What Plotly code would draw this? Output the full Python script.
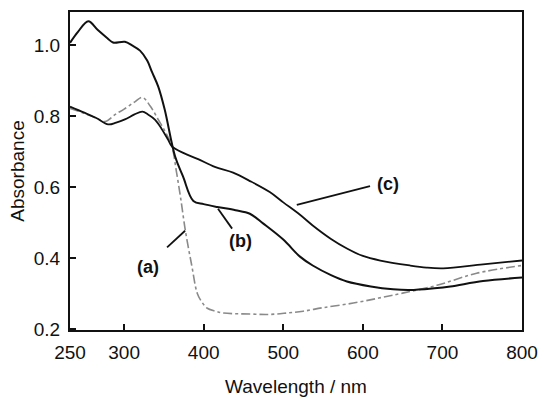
import plotly.graph_objects as go

# Wavelength (nm) / absorbance
wl_a = [232, 250, 265, 276, 289, 300, 313, 323, 333, 343, 352, 360, 366, 371, 377, 385, 392, 398, 404, 415, 425, 458, 483, 505, 525, 550, 588, 620, 650, 693, 743, 800]
abs_a = [0.822, 0.808, 0.795, 0.785, 0.805, 0.820, 0.840, 0.853, 0.828, 0.790, 0.755, 0.715, 0.640, 0.570, 0.477, 0.379, 0.300, 0.275, 0.259, 0.250, 0.245, 0.242, 0.241, 0.245, 0.250, 0.260, 0.273, 0.287, 0.301, 0.323, 0.357, 0.379]

wl_b = [232, 242, 255, 267, 279, 286, 301, 310, 320, 329, 335, 343, 351, 364, 374, 387, 400, 417, 440, 458, 475, 500, 521, 537, 560, 580, 610, 638, 659, 690, 710, 751, 800]
abs_b = [1.007, 1.038, 1.068, 1.043, 1.020, 1.008, 1.010, 1.000, 0.985, 0.957, 0.925, 0.883, 0.819, 0.687, 0.630, 0.561, 0.552, 0.544, 0.535, 0.525, 0.497, 0.452, 0.404, 0.379, 0.352, 0.334, 0.320, 0.312, 0.310, 0.315, 0.320, 0.335, 0.345]

wl_c = [232, 250, 265, 280, 290, 301, 313, 323, 330, 339, 347, 355, 360, 375, 393, 414, 437, 460, 483, 500, 521, 537, 560, 580, 600, 622, 659, 680, 701, 751, 800]
abs_c = [0.827, 0.810, 0.795, 0.777, 0.782, 0.791, 0.805, 0.813, 0.805, 0.790, 0.765, 0.735, 0.715, 0.696, 0.679, 0.657, 0.641, 0.615, 0.586, 0.557, 0.522, 0.492, 0.454, 0.427, 0.406, 0.393, 0.379, 0.373, 0.371, 0.382, 0.393]

x_tickvals = [232, 300, 400, 500, 600, 700, 800]
x_ticktext = ["250", "300", "400", "500", "600", "700", "800"]
y_tickvals = [0.2, 0.4, 0.6, 0.8, 1.0]
y_ticktext = ["0.2", "0.4", "0.6", "0.8", "1.0"]

labels = ["(a)", "(b)", "(c)"]
label_pos = [(330, 0.376), (446, 0.449), (632, 0.609)]
leaders = [((354, 0.430), (376.6, 0.477)),
           ((435.7, 0.483), (418, 0.539)),
           ((517, 0.550), (609, 0.603))]

FONT = "Liberation Sans, Arial, sans-serif"

fig = go.Figure()
fig.add_trace(go.Scatter(x=wl_a, y=abs_a, mode="lines", name="(a)",
                         line=dict(color="#8a8a8a", width=1.6, dash="dashdot"), line_shape="spline"))
fig.add_trace(go.Scatter(x=wl_c, y=abs_c, mode="lines", name="(c)",
                         line=dict(color="#111111", width=1.8), line_shape="spline"))
fig.add_trace(go.Scatter(x=wl_b, y=abs_b, mode="lines", name="(b)",
                         line=dict(color="#111111", width=2.0), line_shape="spline"))

for (x0, y0), (x1, y1) in leaders:
    fig.add_shape(type="line", x0=x0, y0=y0, x1=x1, y1=y1, xref="x", yref="y",
                  line=dict(color="#111111", width=1.8))
for txt, (x, y) in zip(labels, label_pos):
    fig.add_annotation(x=x, y=y, text="<b>" + txt + "</b>", showarrow=False,
                       font=dict(family=FONT, size=18, color="#111111"))

fig.update_layout(
    width=540, height=399,
    margin=dict(l=70, r=18, t=12, b=69),
    paper_bgcolor="white", plot_bgcolor="white",
    showlegend=False,
    font=dict(family=FONT, size=19, color="#111111"),
)
fig.update_xaxes(range=[232, 800], tickvals=x_tickvals, ticktext=x_ticktext,
                 ticks="inside", ticklen=6, tickwidth=1.5, tickcolor="#111111",
                 showline=True, linecolor="#111111", linewidth=2, mirror=True,
                 showgrid=False, zeroline=False, ticklabelstandoff=4,
                 ticklabeloverflow="allow", automargin=False,
                 title=dict(text="Wavelength / nm", standoff=18, font=dict(size=19)))
fig.update_yaxes(range=[0.197, 1.094], tickvals=y_tickvals, ticktext=y_ticktext,
                 ticks="inside", ticklen=6, tickwidth=1.5, tickcolor="#111111",
                 showline=True, linecolor="#111111", linewidth=2, mirror=True,
                 showgrid=False, zeroline=False, ticklabelstandoff=4,
                 automargin=False,
                 title=dict(text="Absorbance", standoff=4, font=dict(size=19)))

fig.write_html("out.html", config={"displayModeBar": False},
               post_script="document.body.style.margin='0';document.body.style.overflow='hidden';")
